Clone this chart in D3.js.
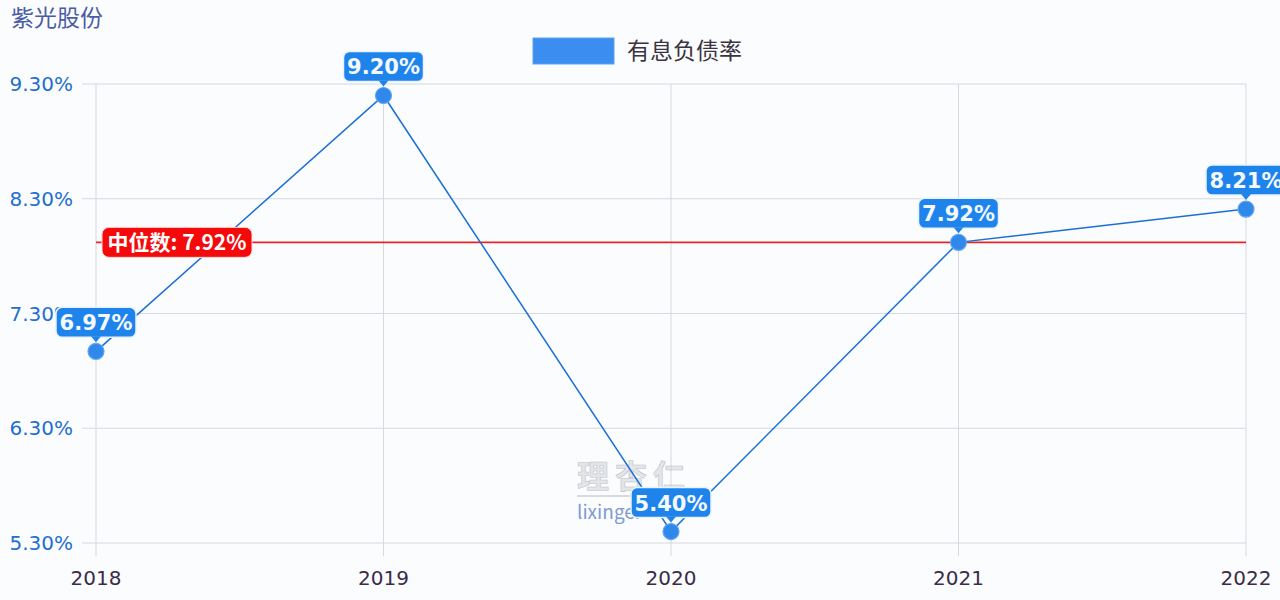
<!DOCTYPE html>
<html><head><meta charset="utf-8">
<script src="https://cdn.jsdelivr.net/npm/d3@7"></script>
<style>
html,body{margin:0;padding:0;background:#fbfcfe;}
svg{display:block;font-family:"Noto Sans CJK SC","Noto Sans",sans-serif;}
</style></head>
<body>
<svg id="c" width="1280" height="600"></svg>
<script>
const title = "紫光股份";
const seriesName = "有息负债率";
const categories = ["2018","2019","2020","2021","2022"];
const values = [6.97, 9.20, 5.40, 7.92, 8.21];
const yTicks = [5.30, 6.30, 7.30, 8.30, 9.30];
const median = 7.92;
const medianLabel = "中位数: ";

const svg = d3.select("#c");
const x = d3.scalePoint().domain(categories).range([96, 1246]);
const y = d3.scaleLinear().domain([5.30, 9.30]).range([543, 84]);

// title
svg.append("text").attr("x", 11).attr("y", 26).attr("font-size", 23)
  .attr("fill", "#4b5ca6").text(title);

// legend
svg.append("rect").attr("x", 533).attr("y", 38).attr("width", 81).attr("height", 26)
  .attr("fill", "#3b8ef0").attr("stroke", "#5aa2f2").attr("stroke-width", 1);
svg.append("text").attr("x", 627).attr("y", 59).attr("font-size", 23)
  .attr("fill", "#3a3340").text(seriesName);

// horizontal gridlines
svg.append("g").selectAll("line").data(yTicks).join("line")
  .attr("x1", 82).attr("x2", 1246)
  .attr("y1", d => y(d)).attr("y2", d => y(d))
  .attr("stroke", "#d6d8e2").attr("stroke-width", 1);
// vertical gridlines
svg.append("g").selectAll("line").data(categories).join("line")
  .attr("x1", d => x(d)).attr("x2", d => x(d))
  .attr("y1", 84).attr("y2", 556)
  .attr("stroke", "#d6d8e2").attr("stroke-width", 1);

// y axis labels
svg.append("g").selectAll("text").data(yTicks).join("text")
  .attr("x", 73).attr("y", d => y(d) + 7).attr("text-anchor", "end")
  .attr("font-size", 20).attr("font-family", "DejaVu Sans, sans-serif")
  .attr("fill", "#1f6fd1").text(d => d.toFixed(2) + "%");
// x axis labels
svg.append("g").selectAll("text").data(categories).join("text")
  .attr("x", d => x(d)).attr("y", 585).attr("text-anchor", "middle")
  .attr("font-size", 20).attr("font-family", "DejaVu Sans, sans-serif")
  .attr("fill", "#3a2c48").text(d => d);

// watermark
const wm = svg.append("g").attr("opacity", 0.6);
wm.append("text").attr("x", 577).attr("y", 488).attr("font-size", 32).attr("font-weight", "bold")
  .attr("fill", "#d4d6dc").attr("stroke", "#9a9ca4").attr("stroke-width", 0.6)
  .attr("letter-spacing", 6).text("理杏仁");
wm.append("line").attr("x1", 577).attr("x2", 705).attr("y1", 496).attr("y2", 496)
  .attr("stroke", "#8a8c94").attr("stroke-width", 1);
wm.append("text").attr("x", 577).attr("y", 519).attr("font-size", 19)
  .attr("fill", "#2a5ab8").text("lixinger");

// median line
svg.append("line").attr("x1", 96).attr("x2", 1246)
  .attr("y1", y(median)).attr("y2", y(median))
  .attr("stroke", "#e8262a").attr("stroke-width", 1.6);

// series line
const line = d3.line().x((d,i) => x(categories[i])).y(d => y(d));
svg.append("path").datum(values).attr("d", line)
  .attr("fill", "none").attr("stroke", "#1a6fd6").attr("stroke-width", 1.5);

// points
svg.append("g").selectAll("circle").data(values).join("circle")
  .attr("cx", (d,i) => x(categories[i])).attr("cy", d => y(d)).attr("r", 8)
  .attr("fill", "#2f88ea").attr("stroke", "#5ea6f2").attr("stroke-width", 1.2);

// value labels
const lbl = svg.append("g").selectAll("g").data(values).join("g")
  .attr("transform", (d,i) => `translate(${x(categories[i])},${y(d) - 29})`);
lbl.append("rect").attr("x", -40).attr("y", -15).attr("width", 80).attr("height", 30)
  .attr("rx", 6).attr("fill", "#1e84ec").attr("stroke", "#e8f2fd").attr("stroke-width", 1.5);
lbl.append("path").attr("d", "M-5,14 L0,20 L5,14 Z").attr("fill", "#1e84ec");
lbl.append("text").attr("y", 8).attr("text-anchor", "middle")
  .attr("font-size", 21).attr("font-weight", 700)
  .attr("font-family", "DejaVu Sans, sans-serif")
  .attr("fill", "#f4f8ff")
  .text(d => d.toFixed(2) + "%");

// median label
const mg = svg.append("g").attr("transform", `translate(102,${y(median)})`);
mg.append("rect").attr("x", 0).attr("y", -15).attr("width", 150).attr("height", 30)
  .attr("rx", 7).attr("fill", "#f40a0a").attr("stroke", "#ffd9d9").attr("stroke-width", 1);
mg.append("text").attr("x", 75).attr("y", 8).attr("text-anchor", "middle")
  .attr("font-size", 21).attr("font-weight", 700).attr("fill", "#ffffff")
  .text(medianLabel + median.toFixed(2) + "%");
</script>
</body></html>
